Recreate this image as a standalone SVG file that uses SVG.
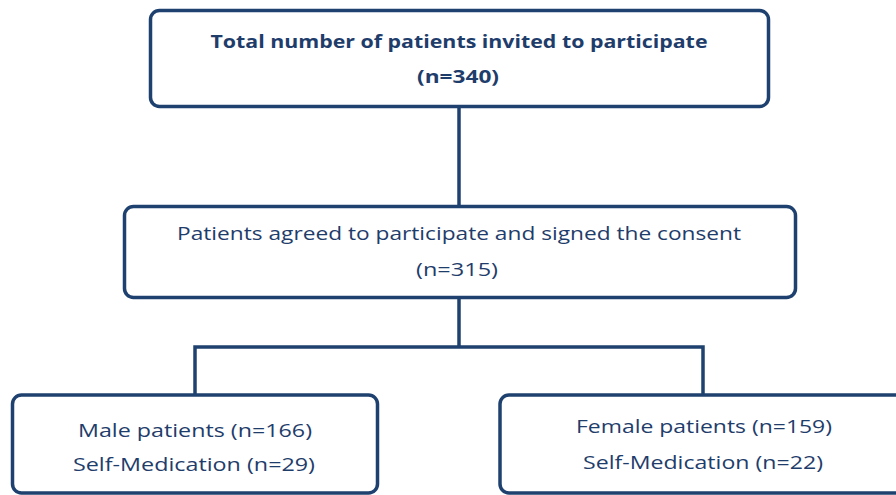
<svg xmlns="http://www.w3.org/2000/svg" width="896" height="495" viewBox="0 0 896 495">
<style>
.box{fill:#ffffff;stroke:#1f416f;stroke-width:3.5}
.ln{fill:none;stroke:#1f416f;stroke-width:3.5}
text{font-family:"Open Sans","Liberation Sans",sans-serif;font-size:18px;fill:#1f3d6b;text-anchor:middle}
.b{font-weight:bold}
</style>
<rect width="896" height="495" fill="#ffffff"/>
<g id="connectors">
<path class="ln" d="M459 106 V206"/>
<path class="ln" d="M459 297 V347 M195 347 H703 M195 345.3 V394 M703 345.3 V394"/>
</g>
<g id="n1">
<rect class="box" x="150.5" y="10.5" width="618" height="96" rx="9"/>
<text class="b" x="459" y="48" textLength="497" lengthAdjust="spacingAndGlyphs">Total number of patients invited to participate</text>
<text class="b" x="458" y="83" textLength="82" lengthAdjust="spacingAndGlyphs">(n=340)</text>
</g>
<g id="n2">
<rect class="box" x="124.5" y="206.5" width="671" height="91" rx="9"/>
<text x="459" y="240" textLength="564" lengthAdjust="spacingAndGlyphs">Patients agreed to participate and signed the consent</text>
<text x="457" y="276" textLength="82" lengthAdjust="spacingAndGlyphs">(n=315)</text>
</g>
<g id="n3">
<rect class="box" x="12.5" y="395" width="365" height="98" rx="9"/>
<text x="195" y="437" textLength="234" lengthAdjust="spacingAndGlyphs">Male patients (n=166)</text>
<text x="194" y="471" textLength="242" lengthAdjust="spacingAndGlyphs">Self-Medication (n=29)</text>
</g>
<g id="n4">
<rect class="box" x="500" y="395" width="420" height="98" rx="9"/>
<text x="704" y="433" textLength="256" lengthAdjust="spacingAndGlyphs">Female patients (n=159)</text>
<text x="703" y="469" textLength="240" lengthAdjust="spacingAndGlyphs">Self-Medication (n=22)</text>
</g>
</svg>
